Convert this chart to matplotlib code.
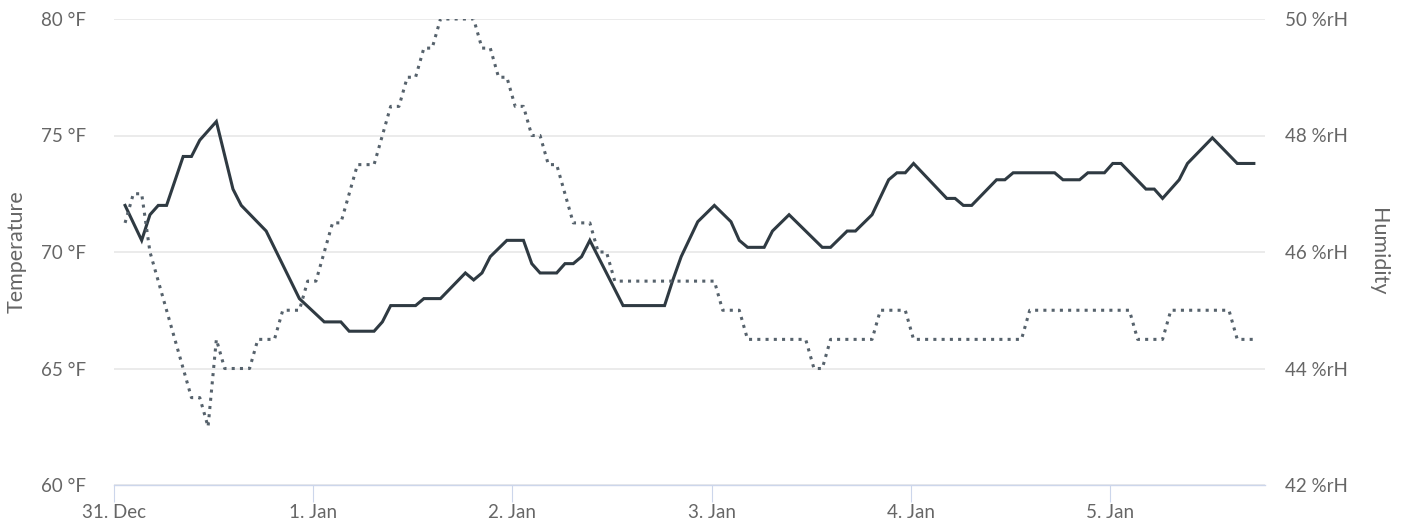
import matplotlib
matplotlib.use("Agg")
import matplotlib.pyplot as plt
import matplotlib.dates as mdates
from matplotlib.ticker import FixedLocator, FuncFormatter
from datetime import datetime, timedelta

# ---------------- data (hourly samples, vertices) -------------
start_time = datetime(2018, 12, 31, 1, 20)   # first sample

temp_hours = [0, 2, 3, 4, 5, 7, 8, 9, 11, 13, 14, 17, 21, 24, 26, 27, 30, 31, 32, 35,
              36, 38, 41, 42, 43, 44, 46, 48, 49, 50, 52, 53, 54, 55, 56, 60, 65, 66, 67, 69,
              71, 73, 74, 75, 77, 78, 80, 84, 85, 87, 88, 90, 92, 93, 94, 95, 99, 100, 101, 102,
              105, 106, 107, 112, 113, 115, 116, 118, 119, 120, 123, 124, 125, 127, 128, 131, 134, 136]
temp_values = [72.0, 70.5, 71.6, 72.0, 72.0, 74.1, 74.1, 74.8, 75.6, 72.7, 72.0, 70.9, 68.0, 67.0, 67.0, 66.6, 66.6, 67.0, 67.7, 67.7,
               68.0, 68.0, 69.1, 68.8, 69.1, 69.8, 70.5, 70.5, 69.5, 69.1, 69.1, 69.5, 69.5, 69.8, 70.5, 67.7, 67.7, 68.8, 69.8, 71.3,
               72.0, 71.3, 70.5, 70.2, 70.2, 70.9, 71.6, 70.2, 70.2, 70.9, 70.9, 71.6, 73.1, 73.4, 73.4, 73.8, 72.3, 72.3, 72.0, 72.0,
               73.1, 73.1, 73.4, 73.4, 73.1, 73.1, 73.4, 73.4, 73.8, 73.8, 72.7, 72.7, 72.3, 73.1, 73.8, 74.9, 73.8, 73.8]

hum_hours = [0, 1, 2, 3, 8, 9, 10, 11, 12, 15, 16, 18, 19, 21, 22, 23, 25, 26, 28, 30,
             32, 33, 34, 35, 36, 37, 38, 42, 43, 44, 45, 46, 47, 48, 49, 50, 51, 52, 54, 56,
             57, 58, 59, 71, 72, 74, 75, 82, 83, 84, 85, 90, 91, 94, 95, 108, 109, 121, 122, 125,
             126, 133, 134, 136]
hum_values = [46.5, 47.0, 47.0, 46.0, 43.5, 43.5, 43.0, 44.5, 44.0, 44.0, 44.5, 44.5, 45.0, 45.0, 45.5, 45.5, 46.5, 46.5, 47.5, 47.5,
              48.5, 48.5, 49.0, 49.0, 49.5, 49.5, 50.0, 50.0, 49.5, 49.5, 49.0, 49.0, 48.5, 48.5, 48.0, 48.0, 47.5, 47.5, 46.5, 46.5,
              46.0, 46.0, 45.5, 45.5, 45.0, 45.0, 44.5, 44.5, 44.0, 44.0, 44.5, 44.5, 45.0, 45.0, 44.5, 44.5, 45.0, 45.0, 44.5, 44.5,
              45.0, 45.0, 44.5, 44.5]

temp_ticks = [60, 65, 70, 75, 80]
hum_ticks = [42, 44, 46, 48, 50]
day_ticks = [datetime(2018, 12, 31) + timedelta(days=i) for i in range(6)]

temp_title = "Temperature"
hum_title = "Humidity"

# ---------------- style -------------
FONT = "Lato"
TXT = "#666666"
plt.rcParams["font.family"] = [FONT, "DejaVu Sans"]

W, H = 1401, 524
fig = plt.figure(figsize=(W / 100, H / 100), dpi=100)
L, R, T, B = 114, 1265, 19, 485
ax = fig.add_axes([L / W, 1 - B / H, (R - L) / W, (B - T) / H])
ax2 = ax.twinx()

t_temp = [start_time + timedelta(hours=h) for h in temp_hours]
t_hum = [start_time + timedelta(hours=h) for h in hum_hours]

ax.plot(t_temp, temp_values, color="#2f3a42", lw=2.2, solid_joinstyle="miter", zorder=3)
ax2.plot(t_hum, hum_values, color="#56626c", lw=2.2, linestyle=(0, (1.0, 1.7)),
         dash_capstyle="butt", zorder=3)

x0 = datetime(2018, 12, 31)
x1 = x0 + timedelta(days=(R - L) / 199.2)
ax.set_xlim(x0, x1)
ax.set_ylim(60, 80)
ax2.set_ylim(42, 50)

ax.yaxis.set_major_locator(FixedLocator(temp_ticks))
ax.yaxis.set_major_formatter(FuncFormatter(lambda v, p: f"{v:.0f} °F"))
ax2.yaxis.set_major_locator(FixedLocator(hum_ticks))
ax2.yaxis.set_major_formatter(FuncFormatter(lambda v, p: f"{v:.0f} %rH"))

ax.xaxis.set_major_locator(FixedLocator(mdates.date2num(day_ticks)))
ax.xaxis.set_major_formatter(FuncFormatter(
    lambda v, p: f"{mdates.num2date(v).day}. {mdates.num2date(v).strftime('%b')}"))

ax.grid(axis="y", color="#e6e6e6", lw=1.1, zorder=0)
ax.set_axisbelow(True)

for a in (ax, ax2):
    for s in a.spines.values():
        s.set_visible(False)
ax.spines["bottom"].set_visible(True)
ax.spines["bottom"].set_color("#ccd6eb")
ax.spines["bottom"].set_linewidth(1.0)
ax.spines["bottom"].set_zorder(4)

ax.tick_params(axis="x", length=12, width=0.8, color="#ccd6eb", pad=1.5,
               labelsize=13.5, labelcolor=TXT)
ax.tick_params(axis="y", length=0, pad=20, labelsize=13.5, labelcolor=TXT)
ax2.tick_params(axis="y", length=0, pad=14.4, labelsize=13.5, labelcolor=TXT)

fig.text(17 / W, 1 - 252 / H, temp_title, rotation=90, ha="center", va="center",
         fontsize=15.5, color=TXT)
fig.text(1378 / W, 1 - 252 / H, hum_title, rotation=270, ha="center", va="center",
         fontsize=15.5, color=TXT)

fig.savefig("out.png", dpi=100, facecolor="white")
